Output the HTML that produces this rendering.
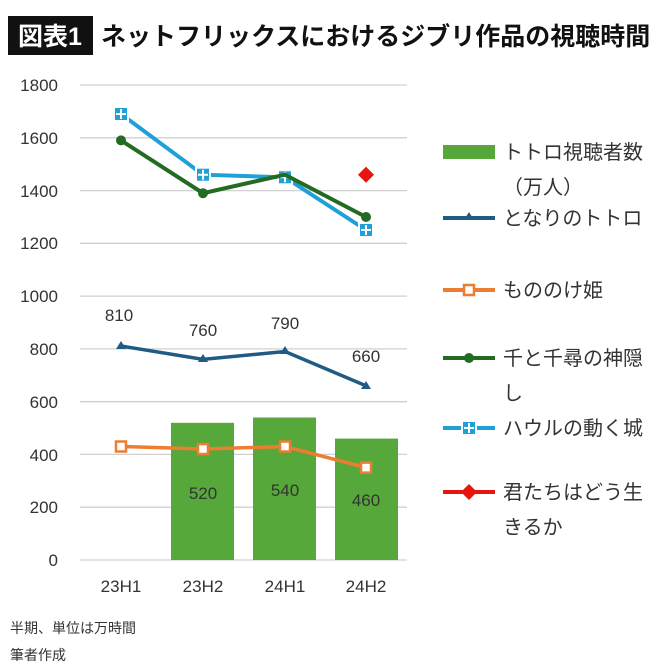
<!DOCTYPE html>
<html><head><meta charset="utf-8"><style>
body{margin:0;background:#fff;}
svg{display:block;font-family:"Liberation Sans","Noto Sans CJK JP",sans-serif;}
</style></head><body>
<svg width="670" height="670" viewBox="0 0 670 670" xmlns="http://www.w3.org/2000/svg">
<rect width="670" height="670" fill="#fff"/>
<rect x="8" y="16" width="85" height="39" fill="#111"/>
<text x="50" y="45" font-size="25" font-weight="bold" fill="#fff" text-anchor="middle">図表1</text>
<text x="101" y="45" font-size="25" font-weight="bold" fill="#111">ネットフリックスにおけるジブリ作品の視聴時間</text>
<g stroke="#d0d0d0" stroke-width="1.3">
<line x1="80" y1="85" x2="407" y2="85"/><line x1="80" y1="137.8" x2="407" y2="137.8"/>
<line x1="80" y1="190.6" x2="407" y2="190.6"/><line x1="80" y1="243.3" x2="407" y2="243.3"/>
<line x1="80" y1="296.1" x2="407" y2="296.1"/><line x1="80" y1="348.9" x2="407" y2="348.9"/>
<line x1="80" y1="401.7" x2="407" y2="401.7"/><line x1="80" y1="454.4" x2="407" y2="454.4"/>
<line x1="80" y1="507.2" x2="407" y2="507.2"/><line x1="80" y1="560" x2="407" y2="560"/>
</g>
<g font-size="17" fill="#333" text-anchor="end">
<text x="58" y="91">1800</text><text x="58" y="144">1600</text><text x="58" y="197">1400</text>
<text x="58" y="249">1200</text><text x="58" y="302">1000</text><text x="58" y="355">800</text>
<text x="58" y="408">600</text><text x="58" y="461">400</text><text x="58" y="513">200</text>
<text x="58" y="566">0</text></g>
<g font-size="17" fill="#333" text-anchor="middle">
<text x="121" y="592">23H1</text><text x="203" y="592">23H2</text><text x="285" y="592">24H1</text><text x="366" y="592">24H2</text></g>
<g fill="#57a83a">
<rect x="171" y="422.8" width="63" height="137.2"/><rect x="253" y="417.5" width="63" height="142.5"/><rect x="335" y="438.6" width="63" height="121.4"/></g>
<g font-size="17" fill="#333" text-anchor="middle">
<text x="203" y="499">520</text><text x="285" y="496">540</text><text x="366" y="506">460</text>
<text x="119" y="321">810</text><text x="203" y="336">760</text><text x="285" y="329">790</text><text x="366" y="362">660</text></g>
<polyline points="121,346 203,359.4 285,351.5 366,385.8" fill="none" stroke="#1f5b82" stroke-width="3.5"/>
<g fill="#1f5b82"><path d="M121,341 l5,8 h-10z"/><path d="M203,354 l5,8 h-10z"/><path d="M285,346 l5,8 h-10z"/><path d="M366,381 l5,8 h-10z"/></g>
<polyline points="121,446.5 203,449 285,446.5 366,467.6" fill="none" stroke="#ed7d31" stroke-width="3.5"/>
<g fill="#fff" stroke="#ed7d31" stroke-width="2.5"><rect x="116" y="441.5" width="10" height="10"/><rect x="198" y="444" width="10" height="10"/><rect x="280" y="441.5" width="10" height="10"/><rect x="361" y="462.6" width="10" height="10"/></g>
<polyline points="121,114 203,174.7 285,177.3 366,230" fill="none" stroke="#20a0d8" stroke-width="4"/>
<g fill="#20a0d8" stroke="#fff" stroke-width="2"><rect x="114" y="107" width="14" height="14"/><rect x="196" y="167.7" width="14" height="14"/><rect x="278" y="170.3" width="14" height="14"/><rect x="359" y="223" width="14" height="14"/></g>
<g stroke="#fff" stroke-width="2"><path d="M121,109v10M116,114h10M203,169.7v10M198,174.7h10M285,172.3v10M280,177.3h10M366,225v10M361,230h10"/></g>
<polyline points="121,140.4 203,193.2 285,174.7 366,217" fill="none" stroke="#236b23" stroke-width="4"/>
<g fill="#236b23"><circle cx="121" cy="140.4" r="5"/><circle cx="203" cy="193.2" r="5"/><circle cx="366" cy="217" r="5"/></g>
<path d="M366,166.7 l8,8 l-8,8 l-8,-8z" fill="#e8150f"/>
<g font-size="20" fill="#333">
<rect x="443" y="145" width="52" height="14" fill="#57a83a"/>
<text x="503" y="159">トトロ視聴者数</text><text x="503" y="194">（万人）</text>
<line x1="443" y1="218" x2="495" y2="218" stroke="#1f5b82" stroke-width="4"/><path d="M469,212 l5,8 h-10z" fill="#1f5b82"/>
<text x="503" y="225">となりのトトロ</text>
<line x1="443" y1="290" x2="495" y2="290" stroke="#ed7d31" stroke-width="4"/><rect x="464" y="285" width="10" height="10" fill="#fff" stroke="#ed7d31" stroke-width="2.5"/>
<text x="503" y="297">もののけ姫</text>
<line x1="443" y1="358" x2="495" y2="358" stroke="#236b23" stroke-width="4"/><circle cx="469" cy="358" r="5" fill="#236b23"/>
<text x="503" y="365">千と千尋の神隠</text><text x="503" y="400">し</text>
<line x1="443" y1="428" x2="495" y2="428" stroke="#20a0d8" stroke-width="4"/><rect x="462" y="421" width="14" height="14" fill="#20a0d8" stroke="#fff" stroke-width="2"/><path d="M469,423v10M464,428h10" stroke="#fff" stroke-width="2"/>
<text x="503" y="435">ハウルの動く城</text>
<line x1="443" y1="492" x2="495" y2="492" stroke="#e8150f" stroke-width="4"/><path d="M469,484 l8,8 l-8,8 l-8,-8z" fill="#e8150f"/>
<text x="503" y="499">君たちはどう生</text><text x="503" y="534">きるか</text>
</g>
<g font-size="14" fill="#333"><text x="10" y="633">半期、単位は万時間</text><text x="10" y="660">筆者作成</text></g>
</svg>
</body></html>
